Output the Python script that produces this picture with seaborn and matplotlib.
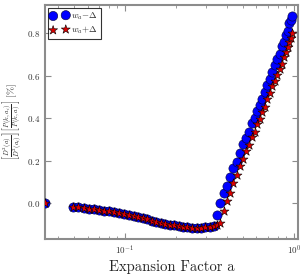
import numpy as np
import pandas as pd
import matplotlib
matplotlib.use("Agg")
import matplotlib.pyplot as plt
import seaborn as sns
from matplotlib.ticker import FuncFormatter, LogLocator

# expansion factor grid (shared by both runs)
a_vals = [0.0336,
          0.0494, 0.0530, 0.0568, 0.0609, 0.0653, 0.0700, 0.0750, 0.0804, 0.0861,
          0.0922, 0.0987, 0.1056, 0.1123, 0.1194, 0.1270, 0.1350, 0.1435, 0.1526,
          0.1622, 0.1725, 0.1834, 0.1950, 0.2073, 0.2204, 0.2343, 0.2491, 0.2649,
          0.2816, 0.2994, 0.3184, 0.3385,
          0.3503, 0.3673, 0.3853, 0.4014, 0.4181, 0.4385, 0.4599, 0.4792, 0.5025,
          0.5235, 0.5417, 0.5681, 0.5878, 0.6082, 0.6293, 0.6511, 0.6736, 0.6970,
          0.7211, 0.7461, 0.7720, 0.7987, 0.8264, 0.8491, 0.8727, 0.8969, 0.9215,
          0.9405, 0.9599, 0.9798]

# common low-a branch
low_branch = [0.0,
              -0.0174, -0.0202, -0.0231, -0.0259, -0.0287, -0.0325, -0.0362, -0.0395,
              -0.0433, -0.0471, -0.0508, -0.0551, -0.0598, -0.0645, -0.0701, -0.0762,
              -0.0824, -0.0880, -0.0927, -0.0974, -0.1012, -0.1049, -0.1082, -0.1111,
              -0.1134, -0.1153, -0.1162, -0.1162, -0.1144, -0.1115, -0.1078]

minus_high = [-0.0551, 0.0014, 0.0485, 0.0814, 0.1238, 0.1661, 0.1944, 0.2367,
              0.2791, 0.3073, 0.3355, 0.3779, 0.4014, 0.4344, 0.4626, 0.4908,
              0.5238, 0.5567, 0.5849, 0.6179, 0.6508, 0.6791, 0.7026, 0.7402,
              0.7591, 0.7920, 0.8108, 0.8485, 0.8626, 0.8814]

plus_high = [-0.1045, -0.0951, -0.0362, 0.0108, 0.0485, 0.0955, 0.1332, 0.1755,
             0.2085, 0.2461, 0.2744, 0.3120, 0.3355, 0.3732, 0.3967, 0.4296,
             0.4532, 0.4908, 0.5191, 0.5520, 0.5755, 0.6038, 0.6320, 0.6555,
             0.6885, 0.7120, 0.7355, 0.7591, 0.7779, 0.8014]

df_minus = pd.DataFrame({"a": a_vals, "ratio": low_branch + minus_high})
df_plus = pd.DataFrame({"a": a_vals, "ratio": low_branch + plus_high})

sns.set_style("ticks")
plt.rcParams["mathtext.fontset"] = "cm"
plt.rcParams["font.family"] = ["cmr10", "DejaVu Serif"]
plt.rcParams["axes.formatter.use_mathtext"] = True

fig = plt.figure(figsize=(3.0, 2.75), dpi=100)
ax = fig.add_axes([0.15, 0.131, 0.843, 0.851])

sns.scatterplot(data=df_minus, x="a", y="ratio", ax=ax, marker="o", s=44,
                color="#0000ff", edgecolor="#000033", linewidth=0.4,
                label=r"$w_a\!-\!\Delta$", zorder=3)
sns.scatterplot(data=df_plus, x="a", y="ratio", ax=ax, marker="*", s=46,
                color="#dd0000", edgecolor="black", linewidth=0.4,
                label=r"$w_a\!+\!\Delta$", zorder=4)

ax.set_xscale("log")
ax.set_xlim(0.0336, 1.055)
ax.set_ylim(-0.169, 0.932)
ax.set_yticks([0.0, 0.2, 0.4, 0.6, 0.8])
ax.yaxis.set_major_formatter(FuncFormatter(lambda v, p: r"$%.1f$" % v))
ax.xaxis.set_major_locator(LogLocator(base=10))
ax.xaxis.set_minor_locator(LogLocator(base=10, subs=np.arange(2, 10)))

for sp in ax.spines.values():
    sp.set_color("#8c8c8c")
    sp.set_linewidth(1.5)
ax.tick_params(which="both", direction="in", top=True, right=True,
               color="#8c8c8c", labelsize=6.5, labelcolor="#333333")
ax.tick_params(which="major", length=4, width=0.8)
ax.tick_params(which="minor", length=2, width=0.6)

ax.set_xlabel("Expansion Factor a", fontsize=10.5, labelpad=2)
ax.set_ylabel(r"$\left[\frac{D^2(a)}{D^2(a_i)}\right]\left[\frac{P(k,a_i)}{P(k,a)}\right]\ [\%]$",
              fontsize=7)
ax.yaxis.set_label_coords(-0.085, 0.5)

leg = ax.legend(loc="upper left", fontsize=6.5, frameon=True, fancybox=False,
                edgecolor="black", borderpad=0.3, handletextpad=0.3,
                borderaxespad=0.3, labelspacing=0.3, scatterpoints=2)
leg.get_frame().set_linewidth(0.8)

fig.savefig("out.png", dpi=100)
